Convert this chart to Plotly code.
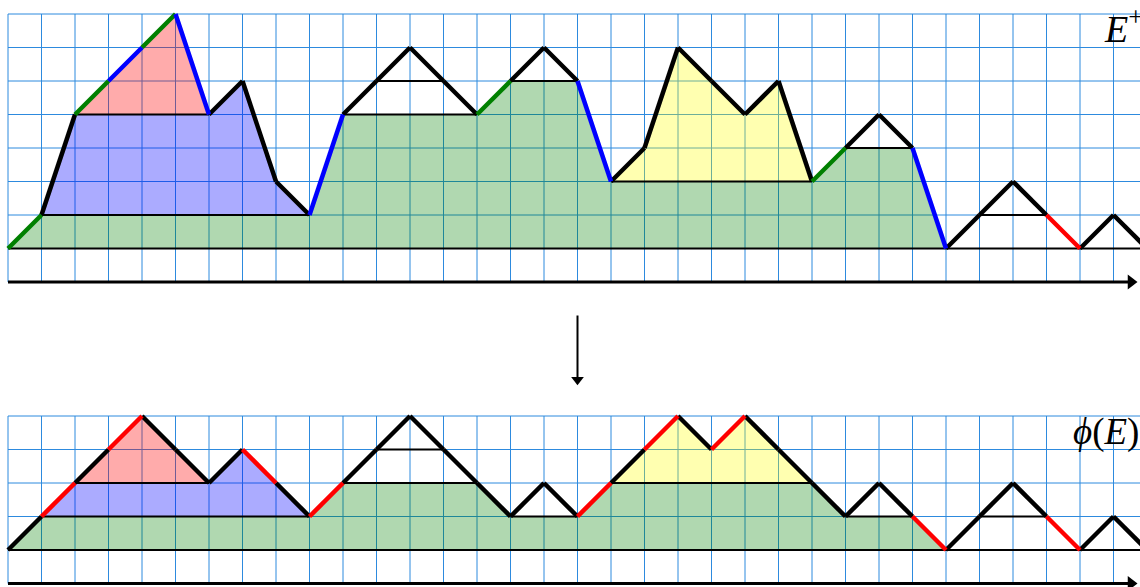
import plotly.graph_objects as go

# Lattice path heights at x = 0, 1, ..., 34
heights_top = [0, 1, 4, 5, 6, 7, 4, 5, 2, 1, 4, 5, 6, 5, 4, 5, 6, 5, 2, 3, 6, 5, 4, 5, 2, 3, 4, 3, 0, 1, 2, 1, 0, 1, 0]
heights_bottom = [0, 1, 2, 3, 4, 3, 2, 3, 2, 1, 2, 3, 4, 3, 2, 1, 2, 1, 2, 3, 4, 3, 4, 3, 2, 1, 2, 1, 0, 1, 2, 1, 0, 1, 0]

# Colour of each step (k = black, g = green, b = blue, r = red)
steps_top = ["g", "k", "g", "b", "g", "b", "k", "k", "k", "b", "k", "k", "k", "k", "g", "k", "k",
             "b", "k", "k", "k", "k", "k", "k", "g", "k", "k", "b", "k", "k", "k", "r", "k", "k"]
steps_bottom = ["k", "r", "k", "r", "k", "k", "k", "r", "k", "r", "k", "k", "k", "k", "k", "k", "k",
                "r", "k", "r", "k", "r", "k", "k", "k", "k", "k", "r", "k", "k", "k", "r", "k", "k"]

# Horizontal chords: (x start, x end, height)
chords_top = [(1, 9, 1), (2, 6, 4), (10, 14, 4), (11, 13, 5), (15, 17, 5), (18, 24, 2), (25, 27, 3), (29, 31, 1)]
chords_bottom = [(1, 9, 1), (2, 6, 2), (10, 14, 2), (11, 13, 3), (15, 17, 1), (18, 24, 2), (25, 27, 1), (29, 31, 1)]

# Shaded regions (polygon vertices as (x, height))
regions_top = {
    "green": [(0, 0), (1, 1), (9, 1), (10, 4), (14, 4), (15, 5), (17, 5), (18, 2), (24, 2), (25, 3), (27, 3), (28, 0)],
    "blue": [(1, 1), (2, 4), (6, 4), (7, 5), (8, 2), (9, 1)],
    "red": [(2, 4), (5, 7), (6, 4)],
    "yellow": [(18, 2), (19, 3), (20, 6), (21, 5), (22, 4), (23, 5), (24, 2)],
}
regions_bottom = {
    "green": [(0, 0), (1, 1), (9, 1), (10, 2), (14, 2), (15, 1), (17, 1), (18, 2), (24, 2), (25, 1), (27, 1), (28, 0)],
    "blue": [(1, 1), (2, 2), (6, 2), (7, 3), (8, 2), (9, 1)],
    "red": [(2, 2), (4, 4), (6, 2)],
    "yellow": [(18, 2), (20, 4), (21, 3), (22, 4), (24, 2)],
}

labels = ["<i>E</i><sup>+</sup>", "<i>ϕ</i>(<i>E</i>)"]

STEP_COLORS = {"k": "black", "g": "rgb(0,128,0)", "b": "rgb(0,0,255)", "r": "rgb(255,0,0)"}
FILL_COLORS = {
    "green": "rgba(0,128,0,0.31)",
    "blue": "rgba(0,0,255,0.33)",
    "red": "rgba(255,0,0,0.33)",
    "yellow": "rgba(255,255,0,0.31)",
}
GRID_COLOR = "rgb(45,138,222)"

UNIT = 33.5          # pixels per lattice unit
W, H = 1140, 587
X0_PX, BASE_PX = 8, 550
TOP_OFFSET = 9       # vertical offset of the upper panel

x_min = -X0_PX / UNIT
x_max = (W - X0_PX) / UNIT
y_min = -(H - BASE_PX) / UNIT
y_max = BASE_PX / UNIT

fig = go.Figure()


def add_grid(offset, top):
    xs, ys = [], []
    n_cols = int(x_max) + 1
    for i in range(n_cols + 1):
        xs += [i, i, None]
        ys += [offset - 1, offset + top, None]
    for j in range(1, top + 1):
        xs += [0, x_max + 1, None]
        ys += [offset + j, offset + j, None]
    fig.add_trace(go.Scatter(x=xs, y=ys, mode="lines", line=dict(color=GRID_COLOR, width=1),
                             hoverinfo="skip", showlegend=False))


def add_regions(regions, offset):
    for name in ["green", "blue", "red", "yellow"]:
        pts = regions[name]
        fig.add_trace(go.Scatter(x=[p[0] for p in pts] + [pts[0][0]],
                                 y=[p[1] + offset for p in pts] + [pts[0][1] + offset],
                                 mode="lines", fill="toself", fillcolor=FILL_COLORS[name],
                                 line=dict(width=0), hoverinfo="skip", showlegend=False))


def add_chords(chords, offset):
    xs, ys = [0, x_max + 1, None], [offset, offset, None]
    for a, b, h in chords:
        xs += [a, b, None]
        ys += [h + offset, h + offset, None]
    fig.add_trace(go.Scatter(x=xs, y=ys, mode="lines", line=dict(color="black", width=2),
                             hoverinfo="skip", showlegend=False))


def add_path(heights, steps, offset):
    for code, color in STEP_COLORS.items():
        xs, ys = [], []
        for i, c in enumerate(steps):
            if c == code:
                xs += [i, i + 1, None]
                ys += [heights[i] + offset, heights[i + 1] + offset, None]
        if xs:
            fig.add_trace(go.Scatter(x=xs, y=ys, mode="lines",
                                     line=dict(color=color, width=4.5),
                                     hoverinfo="skip", showlegend=False))


def add_arrow(x0, y0, x1, y1, width, head_size, symbol):
    fig.add_trace(go.Scatter(x=[x0, x1], y=[y0, y1], mode="lines",
                             line=dict(color="black", width=width),
                             hoverinfo="skip", showlegend=False))
    fig.add_trace(go.Scatter(x=[x1], y=[y1], mode="markers",
                             marker=dict(symbol=symbol, size=head_size, color="black",
                                         line=dict(width=0)),
                             hoverinfo="skip", showlegend=False))


for offset, heights, steps, chords, regions, top in [
    (TOP_OFFSET, heights_top, steps_top, chords_top, regions_top, 7),
    (0, heights_bottom, steps_bottom, chords_bottom, regions_bottom, 4),
]:
    add_grid(offset, top)
    add_regions(regions, offset)
    add_chords(chords, offset)
    add_path(heights, steps, offset)

# Horizontal axes with arrowheads
for offset in [TOP_OFFSET, 0]:
    add_arrow(0, offset - 1, (1131 - X0_PX) / UNIT, offset - 1, 3, 13, "triangle-right")

# Map arrow between the panels
add_arrow(17, 7.0, 17, 5.08, 2, 11, "triangle-down")

fig.add_annotation(x=1102 / W, y=1 - 0 / H, xref="paper", yref="paper", xanchor="left", yanchor="top",
                   text=labels[0], showarrow=False,
                   font=dict(family="Liberation Serif", size=38, color="black"))
fig.add_annotation(x=1071 / W, y=1 - 409 / H, xref="paper", yref="paper", xanchor="left", yanchor="top",
                   text=labels[1], showarrow=False,
                   font=dict(family="Liberation Serif", size=37, color="black"))

fig.update_layout(
    width=W, height=H, margin=dict(l=0, r=0, t=0, b=0),
    paper_bgcolor="white", plot_bgcolor="white", showlegend=False,
    xaxis=dict(range=[x_min, x_max], visible=False, fixedrange=True),
    yaxis=dict(range=[y_min, y_max], visible=False, fixedrange=True),
)

fig.write_html("out.html")
